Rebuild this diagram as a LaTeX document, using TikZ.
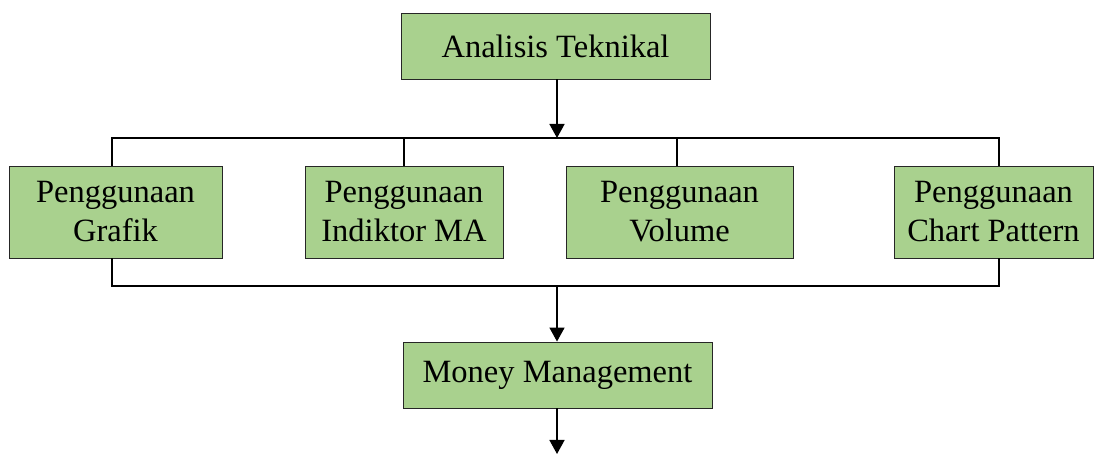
\documentclass[tikz,border=0pt]{standalone}
\usepackage{fontspec}
\setmainfont{Liberation Serif}
\usetikzlibrary{positioning, arrows.meta}
\definecolor{boxgreen}{HTML}{A9D18E}
\definecolor{boxedge}{HTML}{262626}

\begin{document}
\begin{tikzpicture}[x=1pt,y=1pt,
  kotak/.style={fill=boxgreen,draw=boxedge,line width=0.9pt,align=center,inner sep=0pt,
    font=\fontsize{32.5}{39}\selectfont},
  garis/.style={line width=1.6pt,line cap=rect},
  panah/.style={line width=1.6pt,-{Triangle[width=15pt,length=14pt]}}]
  \useasboundingbox (0,0) rectangle (1094,454);
  \node[kotak,minimum width=309pt,minimum height=66pt](teknikal)at(555.5,408){Analisis Teknikal};
  \node[kotak,minimum width=213pt,minimum height=92pt](grafik)at(115.5,242){Penggunaan\\Grafik};
  \node[kotak,minimum width=198pt,minimum height=92pt](indikator)at(404,242){Penggunaan\\Indiktor MA};
  \node[kotak,minimum width=227pt,minimum height=92pt](volume)at(679.5,242){Penggunaan\\Volume};
  \node[kotak,minimum width=199pt,minimum height=92pt](pattern)at(993.5,242){Penggunaan\\Chart Pattern};
  \node[kotak,minimum width=309pt,minimum height=66pt](money)at(557.5,79){Money Management};
  \coordinate(atasL)at(112,316);\coordinate(atasR)at(999,316);
  \coordinate(bawahL)at(112,168);\coordinate(bawahR)at(999,168);
  \coordinate(akhir)at(557,0);
  \draw[panah](teknikal.south-|akhir)--(atasL-|akhir);
  \draw[garis](grafik.north-|atasL)--(atasL)--(atasR)--(pattern.north-|atasR);
  \draw[garis](indikator.north)--(indikator.north|-atasL);
  \draw[garis](volume.north-|677,0)--(atasL-|677,0);
  \draw[garis](grafik.south-|bawahL)--(bawahL)--(bawahR)--(pattern.south-|bawahR);
  \draw[panah](bawahL-|akhir)--(money.north-|akhir);
  \draw[panah](money.south-|akhir)--(akhir);
\end{tikzpicture}
\end{document}
